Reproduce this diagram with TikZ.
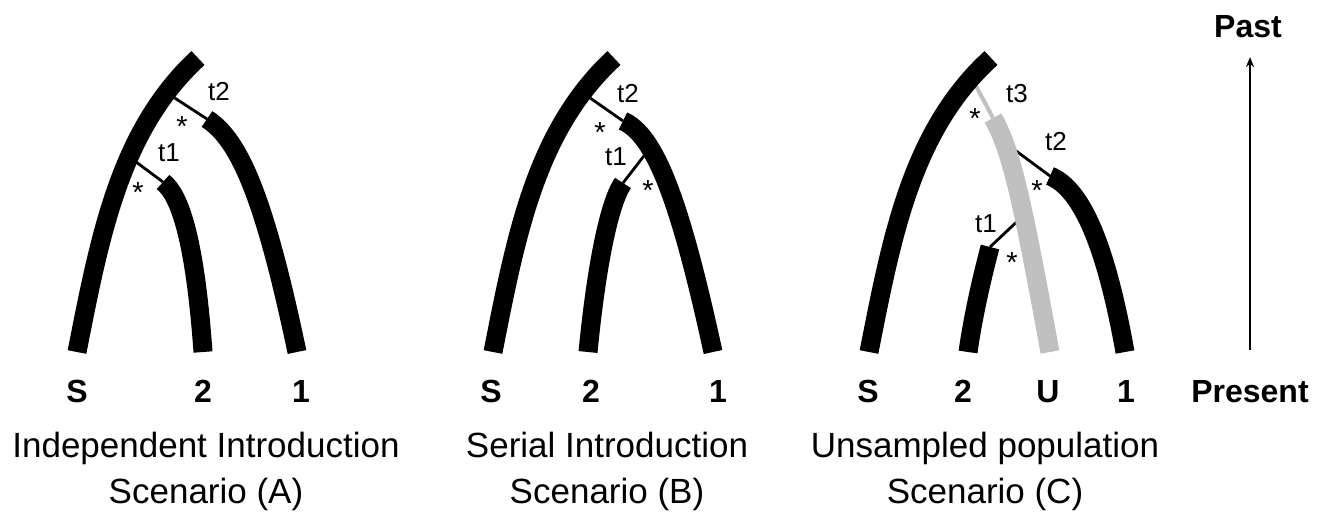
\documentclass[tikz,border=0pt]{standalone}
\usepackage{fontspec}
\setmainfont{Liberation Sans}
\usetikzlibrary{arrows.meta}
\definecolor{unsampled}{RGB}{192,192,192}

\begin{document}
\begin{tikzpicture}[x=1pt,y=-1pt,
  lineage/.style={line width=19pt},
  link/.style={line width=2.8pt},
  tlab/.style={font=\fontsize{26}{30}\selectfont},
  starlab/.style={font=\fontsize{29}{32}\selectfont},
  tiplab/.style={anchor=base,font=\fontsize{32}{38}\selectfont\bfseries},
  caption/.style={anchor=base,font=\fontsize{35}{42}\selectfont}]
\useasboundingbox (0,0) rectangle (1327,523);
% scenario A
\coordinate (sA0) at (77,352); \coordinate (sA1) at (198,58);
\coordinate (jA2) at (167,93); \coordinate (jA1) at (128,156);
\coordinate (oneA0) at (207,119); \coordinate (oneA1) at (297,352);
\coordinate (twoA0) at (163,182); \coordinate (twoA1) at (203,352);
\draw[link] (jA2) -- (oneA0);
\draw[link] (jA1) -- (twoA0);
\draw[lineage] (sA0) .. controls (100,235) and (120,130) .. (sA1);
\draw[lineage] (oneA0) .. controls (240,140) and (265,200) .. (oneA1);
\draw[lineage] (twoA0) .. controls (180,195) and (195,240) .. (twoA1);
\node[tlab] (tA2) at (219,92) {t2};
\node[tlab] (tA1) at (169,153) {t1};
\node[starlab] (starA2) at (182,127) {*};
\node[starlab] (starA1) at (138,193) {*};
% scenario B
\coordinate (sB0) at (493,352); \coordinate (sB1) at (614,58);
\coordinate (jB2) at (583,93); \coordinate (jB1) at (650,148);
\coordinate (oneB0) at (623,121); \coordinate (oneB1) at (713,352);
\coordinate (twoB0) at (623,183); \coordinate (twoB1) at (588,352);
\draw[link] (jB2) -- (oneB0);
\draw[link] (jB1) -- (twoB0);
\draw[lineage] (sB0) .. controls (516,235) and (536,130) .. (sB1);
\draw[lineage] (oneB0) .. controls (655,135) and (680,200) .. (oneB1);
\draw[lineage] (twoB0) .. controls (612,198) and (598,250) .. (twoB1);
\node[tlab] (tB2) at (628,94) {t2};
\node[tlab] (tB1) at (616,157) {t1};
\node[starlab] (starB2) at (600,133) {*};
\node[starlab] (starB1) at (648,191) {*};
% scenario C
\coordinate (sC0) at (869,352); \coordinate (sC1) at (991,58);
\coordinate (jC3) at (976,86); \coordinate (jC2) at (1008,145); \coordinate (jC1) at (1024,215);
\coordinate (uC0) at (993,118); \coordinate (uC1) at (1050,352);
\coordinate (oneC0) at (1050,176); \coordinate (oneC1) at (1125,352);
\coordinate (twoC0) at (990,247); \coordinate (twoC1) at (968,352);
\draw[line width=4pt,unsampled] (jC3) -- (uC0);
\draw[link] (jC2) -- (oneC0);
\draw[link] (jC1) -- (twoC0);
\draw[lineage] (sC0) .. controls (892,235) and (912,130) .. (sC1);
\draw[lineage,unsampled] (uC0) .. controls (1012,152) and (1022,200) .. (uC1);
\draw[lineage] (oneC0) .. controls (1080,188) and (1105,240) .. (oneC1);
\draw[lineage] (twoC0) .. controls (984,270) and (974,310) .. (twoC1);
\node[tlab] (tC3) at (1017,94) {t3};
\node[tlab] (tC2) at (1056,142) {t2};
\node[tlab] (tC1) at (986,224) {t1};
\node[starlab] (starC3) at (975,119) {*};
\node[starlab] (starC2) at (1037,191) {*};
\node[starlab] (starC1) at (1012,263) {*};
% tips and captions
\node[tiplab] (labSA) at (77,402) {S};
\node[tiplab] (lab2A) at (203,402) {2};
\node[tiplab] (lab1A) at (301,402) {1};
\node[tiplab] (labSB) at (491,402) {S};
\node[tiplab] (lab2B) at (591,402) {2};
\node[tiplab] (lab1B) at (718,402) {1};
\node[tiplab] (labSC) at (868,402) {S};
\node[tiplab] (lab2C) at (963,402) {2};
\node[tiplab] (labUC) at (1048,402) {U};
\node[tiplab] (lab1C) at (1126,402) {1};
\node[caption] (capA) at (206,457) {Independent Introduction};
\node[caption] (capA2) at (206,503) {Scenario (A)};
\node[caption] (capB) at (607,457) {Serial Introduction};
\node[caption] (capB2) at (607,503) {Scenario (B)};
\node[caption] (capC) at (985,457) {Unsampled population};
\node[caption] (capC2) at (985,503) {Scenario (C)};
% time axis
\node[tiplab] (present) at (1250,402) {Present};
\node[tiplab] (past) at (1248,37) {Past};
\coordinate (arrlow) at (1250,350); \coordinate (arrhigh) at (1250,57);
\draw[line width=1.5pt,-{Stealth[length=10pt,width=8pt,inset=3pt]}] (arrlow) -- (arrhigh);
\end{tikzpicture}
\end{document}
